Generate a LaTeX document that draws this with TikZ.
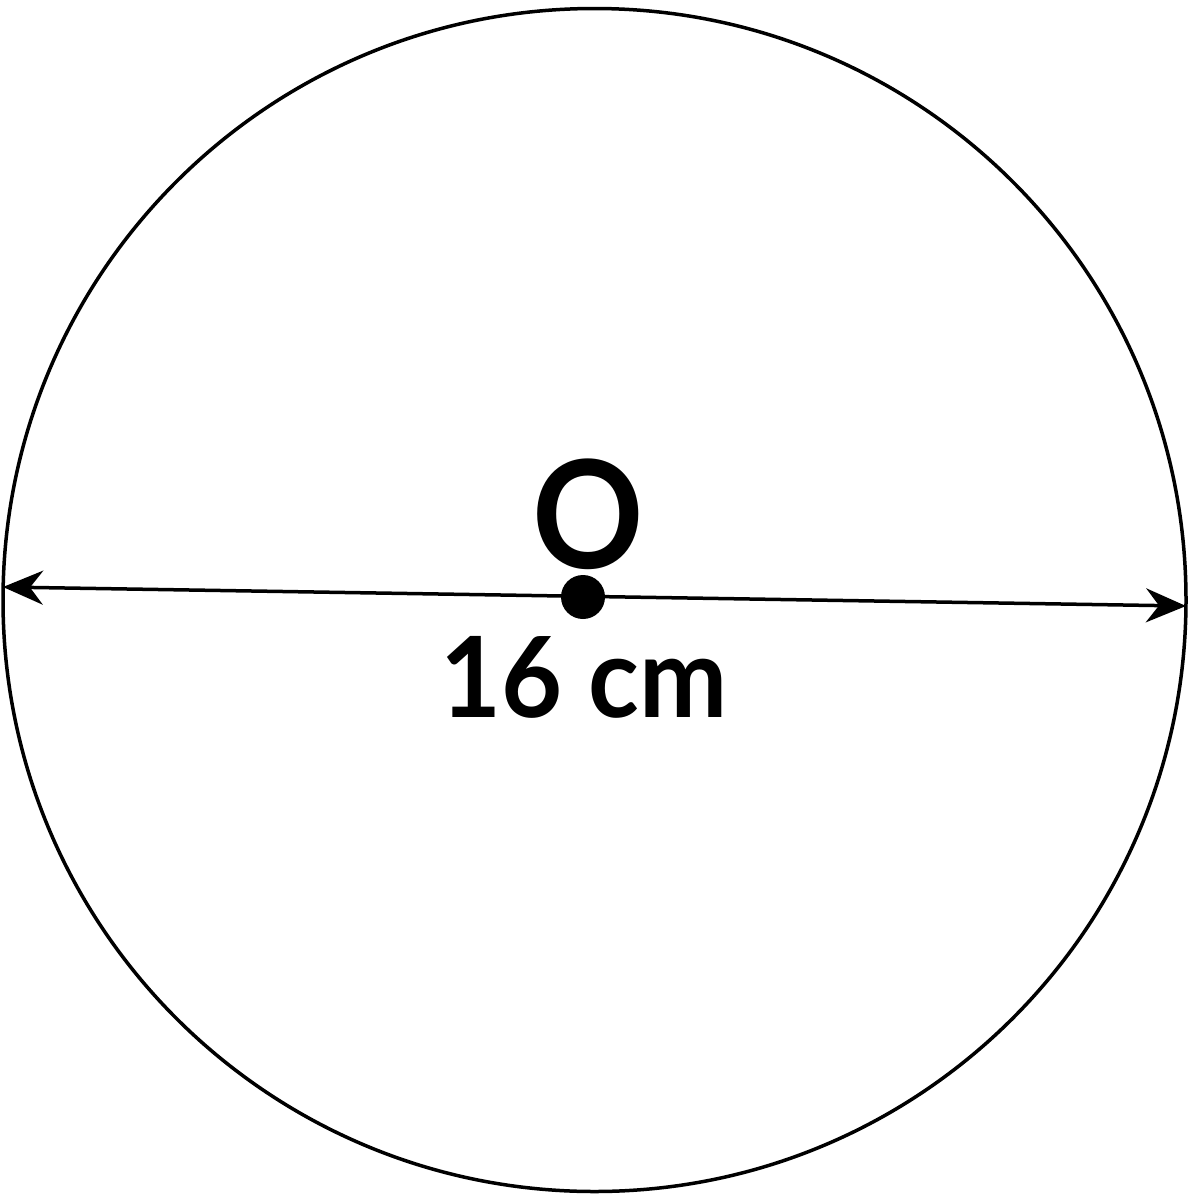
\documentclass[tikz,border=0pt]{standalone}
\usepackage{fontspec}
\setmainfont{Lato}
\usetikzlibrary{arrows.meta}
\begin{document}
\begin{tikzpicture}[x=1pt,y=-1pt,
  outline/.style={line width=3.5pt},
  diam/.style={line width=3.5pt,{Stealth[length=40pt,width=34pt,inset=13pt]}-{Stealth[length=40pt,width=34pt,inset=13pt]}},
  lbl/.style={inner sep=0pt,font=\bfseries}]
\useasboundingbox (0,0) rectangle (1189,1200);
\node[circle,draw,outline,minimum size=1183pt,inner sep=0pt] (circ) at (594.5,600) {};
\coordinate (L) at (3,587);
\coordinate (R) at (1186,606);
\draw[diam] (L) -- (R);
\node[circle,fill=black,minimum size=44pt,inner sep=0pt] (ctr) at (583,597) {};
\node[lbl,anchor=base] (olbl) at (588,568) {\scalebox{0.92}[1]{\fontsize{150}{150}\selectfont O}};
\node[lbl,anchor=base] (dlbl) at (584,717) {\scalebox{0.94}[1]{\fontsize{112}{112}\selectfont 16 cm}};
\end{tikzpicture}
\end{document}
